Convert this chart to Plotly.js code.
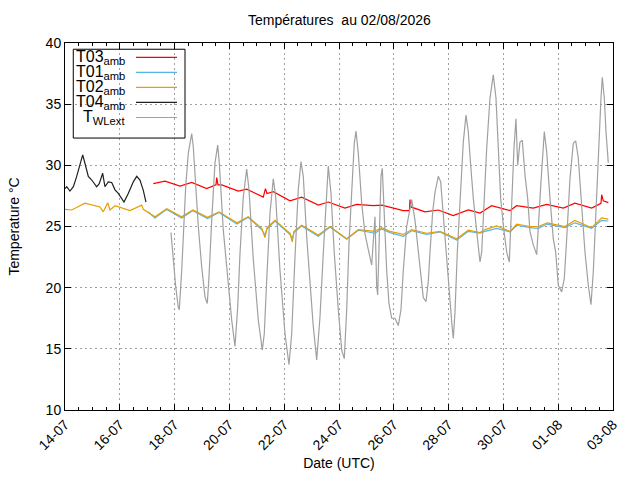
<!DOCTYPE html>
<html>
<head>
<meta charset="utf-8">
<script src="https://cdn.plot.ly/plotly-3.0.1.min.js"></script>
<style>
  html, body { margin: 0; padding: 0; background: #fff; }
  #chart { width: 640px; height: 480px; }
</style>
</head>
<body>
<div id="chart"></div>
<script>
// T03 amb (red)
var t03Dates = ['2026-07-17 05:20', '2026-07-17 15:35', '2026-07-18 04:45', '2026-07-18 15:00', '2026-07-19 04:05',
    '2026-07-19 12:15', '2026-07-19 12:55', '2026-07-19 14:00', '2026-07-19 17:15', '2026-07-20 07:50',
    '2026-07-20 15:10', '2026-07-21 05:40', '2026-07-21 07:35', '2026-07-21 08:55', '2026-07-21 14:25',
    '2026-07-22 05:05', '2026-07-22 15:20', '2026-07-23 05:55', '2026-07-23 14:40', '2026-07-24 05:15',
    '2026-07-24 15:30', '2026-07-25 06:00', '2026-07-25 13:25', '2026-07-26 08:20', '2026-07-26 13:40',
    '2026-07-26 14:10', '2026-07-26 15:00', '2026-07-27 03:20', '2026-07-27 15:00', '2026-07-28 04:05',
    '2026-07-28 17:15', '2026-07-29 03:30', '2026-07-29 13:40', '2026-07-30 05:50', '2026-07-30 11:40',
    '2026-07-31 02:10', '2026-07-31 13:55', '2026-08-01 04:30', '2026-08-01 14:40', '2026-08-02 05:20',
    '2026-08-02 13:30', '2026-08-02 14:05', '2026-08-02 15:30', '2026-08-02 19:55']
var t03Values = [28.5, 28.7, 28.3, 28.6, 28.1,
    28.4, 29.0, 28.4, 28.4, 27.9,
    28.05, 27.4, 28.1, 27.7, 27.85,
    27.1, 27.4, 26.75, 27.0, 26.5,
    26.8, 26.7, 26.75, 26.3, 26.3,
    27.2, 26.6, 26.2, 26.35, 25.9,
    26.35, 26.1, 26.7, 26.3, 26.7,
    26.5, 26.8, 26.5, 26.9, 26.5,
    26.9, 27.6, 27.1, 26.95]

// T01 amb (blue)
var t01Dates = ['2026-07-17 00:40', '2026-07-17 06:50', '2026-07-17 17:05', '2026-07-18 06:10', '2026-07-18 16:05',
    '2026-07-19 04:50', '2026-07-19 14:55', '2026-07-20 06:40', '2026-07-20 16:30', '2026-07-21 04:15',
    '2026-07-21 07:10', '2026-07-21 08:55', '2026-07-21 15:55', '2026-07-22 05:05', '2026-07-22 07:05',
    '2026-07-22 08:35', '2026-07-22 15:20', '2026-07-23 05:55', '2026-07-23 16:05', '2026-07-24 06:45',
    '2026-07-24 16:55', '2026-07-25 07:30', '2026-07-25 13:25', '2026-07-25 20:40', '2026-07-26 08:20',
    '2026-07-26 15:40', '2026-07-27 04:50', '2026-07-27 16:30', '2026-07-28 07:05', '2026-07-28 17:15',
    '2026-07-29 03:30', '2026-07-29 07:55', '2026-07-29 18:05', '2026-07-30 05:50', '2026-07-30 11:40',
    '2026-07-30 23:20', '2026-07-31 06:35', '2026-07-31 14:25', '2026-08-01 05:55', '2026-08-01 14:40',
    '2026-08-02 05:20', '2026-08-02 14:05', '2026-08-02 19:55']
var t01Values = [26.2, 25.7, 26.4, 25.7, 26.3,
    25.65, 26.15, 25.2, 25.75, 24.75,
    24.3, 24.8, 25.45, 24.35, 24.0,
    24.5, 25.05, 24.2, 24.95, 23.95,
    24.7, 24.45, 24.8, 24.5, 24.2,
    24.65, 24.35, 24.55, 23.9, 24.6,
    24.45, 24.6, 24.85, 24.55, 25.1,
    24.9, 24.85, 25.2, 24.9, 25.3,
    24.85, 25.5, 25.45]

// T02 amb (orange)
var t02Dates = ['2026-07-14 00:00', '2026-07-14 05:55', '2026-07-14 17:30', '2026-07-15 06:40', '2026-07-15 09:30',
    '2026-07-15 13:25', '2026-07-15 15:25', '2026-07-15 19:50', '2026-07-16 08:55', '2026-07-16 19:10',
    '2026-07-16 20:35', '2026-07-17 03:55', '2026-07-17 06:50', '2026-07-17 17:05', '2026-07-18 06:10',
    '2026-07-18 16:05', '2026-07-19 04:50', '2026-07-19 14:55', '2026-07-20 06:40', '2026-07-20 16:30',
    '2026-07-21 04:15', '2026-07-21 07:10', '2026-07-21 08:55', '2026-07-21 15:55', '2026-07-22 05:05',
    '2026-07-22 07:05', '2026-07-22 08:35', '2026-07-22 15:20', '2026-07-23 05:55', '2026-07-23 16:05',
    '2026-07-24 06:45', '2026-07-24 16:55', '2026-07-25 07:30', '2026-07-25 13:25', '2026-07-25 20:40',
    '2026-07-26 08:20', '2026-07-26 15:40', '2026-07-27 04:50', '2026-07-27 16:30', '2026-07-28 07:05',
    '2026-07-28 17:15', '2026-07-29 03:30', '2026-07-29 07:55', '2026-07-29 18:05', '2026-07-30 05:50',
    '2026-07-30 11:40', '2026-07-30 23:20', '2026-07-31 06:35', '2026-07-31 14:25', '2026-08-01 05:55',
    '2026-08-01 14:40', '2026-08-02 05:20', '2026-08-02 14:05', '2026-08-02 19:55']
var t02Values = [26.4, 26.35, 26.9, 26.6, 26.2,
    26.95, 26.35, 26.7, 26.3, 26.75,
    26.4, 26.0, 25.8, 26.45, 25.8,
    26.35, 25.75, 26.2, 25.3, 25.8,
    24.85, 24.1, 24.9, 25.5, 24.45,
    23.75, 24.6, 25.1, 24.3, 25.0,
    24.0, 24.75, 24.6, 24.9, 24.6,
    24.35, 24.75, 24.45, 24.6, 24.0,
    24.7, 24.5, 24.75, 25.05, 24.6,
    25.2, 25.0, 25.0, 25.3, 25.0,
    25.5, 24.9, 25.7, 25.6]

// T04 amb (black)
var t04Dates = ['2026-07-14 00:00', '2026-07-14 01:30', '2026-07-14 04:20', '2026-07-14 07:20', '2026-07-14 10:15',
    '2026-07-14 13:10', '2026-07-14 15:30', '2026-07-14 17:30', '2026-07-14 20:25', '2026-07-14 23:25',
    '2026-07-15 02:15', '2026-07-15 03:45', '2026-07-15 06:00', '2026-07-15 09:00', '2026-07-15 11:00',
    '2026-07-15 13:55', '2026-07-15 16:55', '2026-07-15 19:50', '2026-07-15 22:40', '2026-07-16 03:40',
    '2026-07-16 07:25', '2026-07-16 11:50', '2026-07-16 14:50', '2026-07-16 17:40', '2026-07-16 20:35',
    '2026-07-16 22:55']
var t04Values = [28.1, 28.25, 27.9, 28.25, 29.1,
    30.0, 30.85, 30.15, 29.1, 28.8,
    28.5, 28.25, 28.5, 29.35, 28.25,
    28.65, 28.6, 28.0, 27.7, 27.0,
    27.7, 28.65, 29.1, 28.8, 27.95,
    27.0]

// T WLext (grey)
var twlDates = [
    '2026-07-17 20:50', '2026-07-17 22:52', '2026-07-18 00:58', '2026-07-18 03:14', '2026-07-18 04:07',
    '2026-07-18 06:13', '2026-07-18 07:37', '2026-07-18 09:43', '2026-07-18 12:00', '2026-07-18 14:59',
    '2026-07-18 16:23', '2026-07-18 18:29', '2026-07-18 20:46', '2026-07-18 23:44', '2026-07-19 02:37',
    '2026-07-19 04:38', '2026-07-19 06:08', '2026-07-19 08:29', '2026-07-19 11:23', '2026-07-19 13:45',
    '2026-07-19 15:09', '2026-07-19 18:39', '2026-07-19 23:02', '2026-07-20 02:01', '2026-07-20 04:54',
    '2026-07-20 07:16', '2026-07-20 09:17', '2026-07-20 12:10', '2026-07-20 15:09', '2026-07-20 17:10',
    '2026-07-20 20:56', '2026-07-21 01:19', '2026-07-21 04:49', '2026-07-21 06:34', '2026-07-21 08:40',
    '2026-07-21 11:34', '2026-07-21 14:27', '2026-07-21 16:33', '2026-07-21 20:19', '2026-07-22 00:41',
    '2026-07-22 04:12', '2026-07-22 06:34', '2026-07-22 09:27', '2026-07-22 12:20', '2026-07-22 14:42',
    '2026-07-22 16:43', '2026-07-22 19:42', '2026-07-22 22:35', '2026-07-23 01:29', '2026-07-23 04:28',
    '2026-07-23 07:21', '2026-07-23 10:14', '2026-07-23 13:13', '2026-07-23 14:37', '2026-07-23 16:59',
    '2026-07-23 19:53', '2026-07-23 23:23', '2026-07-24 02:22', '2026-07-24 04:38', '2026-07-24 06:44',
    '2026-07-24 08:45', '2026-07-24 11:07', '2026-07-24 13:23', '2026-07-24 14:53', '2026-07-24 16:54',
    '2026-07-24 19:53', '2026-07-24 22:46', '2026-07-25 01:40', '2026-07-25 04:38', '2026-07-25 07:31',
    '2026-07-25 09:01', '2026-07-25 09:53', '2026-07-25 11:02', '2026-07-25 12:47', '2026-07-25 13:55',
    '2026-07-25 15:40', '2026-07-25 17:46', '2026-07-25 19:47', '2026-07-25 22:09', '2026-07-26 01:02',
    '2026-07-26 03:56', '2026-07-26 06:18', '2026-07-26 08:18', '2026-07-26 11:17', '2026-07-26 14:11',
    '2026-07-26 15:40', '2026-07-26 18:34', '2026-07-26 21:27', '2026-07-27 01:50', '2026-07-27 04:12',
    '2026-07-27 06:13', '2026-07-27 07:42', '2026-07-27 10:04', '2026-07-27 12:05', '2026-07-27 14:58',
    '2026-07-27 17:04', '2026-07-27 19:21', '2026-07-27 21:43', '2026-07-28 00:36', '2026-07-28 02:43',
    '2026-07-28 04:07', '2026-07-28 05:36', '2026-07-28 07:37', '2026-07-28 10:35', '2026-07-28 12:52',
    '2026-07-28 15:14', '2026-07-28 17:15', '2026-07-28 19:21', '2026-07-28 21:38', '2026-07-29 00:36',
    '2026-07-29 03:30', '2026-07-29 04:59', '2026-07-29 07:00', '2026-07-29 09:22', '2026-07-29 12:15',
    '2026-07-29 15:08', '2026-07-29 17:30', '2026-07-29 19:31', '2026-07-29 21:37', '2026-07-29 23:54',
    '2026-07-30 02:53', '2026-07-30 05:10', '2026-07-30 07:16', '2026-07-30 09:16', '2026-07-30 11:01',
    '2026-07-30 12:31', '2026-07-30 14:32', '2026-07-30 16:32', '2026-07-30 18:55', '2026-07-30 21:16',
    '2026-07-30 23:17', '2026-07-31 02:11', '2026-07-31 05:10', '2026-07-31 06:34', '2026-07-31 08:55',
    '2026-07-31 11:49', '2026-07-31 13:55', '2026-07-31 16:48', '2026-07-31 19:41', '2026-07-31 21:48',
    '2026-08-01 00:05', '2026-08-01 03:03', '2026-08-01 05:20', '2026-08-01 07:26', '2026-08-01 10:19',
    '2026-08-01 13:13', '2026-08-01 15:19', '2026-08-01 17:35', '2026-08-01 20:34', '2026-08-01 23:28',
    '2026-08-02 02:21', '2026-08-02 04:43', '2026-08-02 06:44', '2026-08-02 08:50', '2026-08-02 11:07',
    '2026-08-02 13:29', '2026-08-02 14:37', '2026-08-02 16:22', '2026-08-02 17:52', '2026-08-02 19:53']
var twlValues = [
    24.5, 22.3, 20.1, 18.4, 18.2,
    21.4, 24.7, 28.25, 31.0, 32.6,
    31.5, 28.25, 25.0, 21.7, 19.25,
    18.7, 20.9, 25.5, 30.2, 31.65,
    30.2, 24.7, 20.35, 17.35, 15.2,
    18.4, 22.8, 27.4, 29.7, 28.0,
    22.3, 17.35, 14.9, 16.25, 20.6,
    26.1, 28.9, 27.4, 21.4, 16.25,
    13.7, 16.25, 22.5, 28.0, 30.3,
    29.1, 24.15, 20.1, 16.8, 14.1,
    17.6, 22.8, 28.25, 29.95, 27.7,
    22.8, 18.2, 14.9, 14.2, 18.2,
    23.6, 28.25, 31.8, 32.8, 31.0,
    26.9, 24.4, 23.1, 21.85, 25.8,
    20.1, 19.4, 23.6, 29.1, 29.75,
    25.5, 21.4, 18.7, 17.5, 17.5,
    16.9, 18.2, 21.4, 25.0, 26.6,
    27.2, 25.5, 23.1, 19.2, 18.85,
    20.5, 22.9, 26.2, 27.8, 29.1,
    28.65, 25.9, 22.7, 19.4, 17.2,
    15.85, 18.0, 22.9, 27.8, 31.9,
    34.1, 32.75, 30.0, 27.3, 24.6,
    22.1, 22.9, 27.3, 31.4, 35.5,
    37.4, 35.5, 31.4, 27.3, 25.1,
    22.9, 22.1, 26.75, 31.4, 33.8,
    30.0, 31.9, 32.05, 29.2, 27.3,
    24.6, 23.5, 22.7, 24.6, 28.65,
    32.75, 31.1, 27.3, 24.0, 22.9,
    20.2, 19.65, 20.75, 24.0, 28.9,
    31.8, 32.0, 30.6, 26.75, 22.9,
    20.2, 18.6, 21.3, 25.9, 31.4,
    35.5, 37.2, 35.5, 32.75, 30.2]

var seriesNames = ['T03<sub>amb</sub>', 'T01<sub>amb</sub>', 'T02<sub>amb</sub>', 'T04<sub>amb</sub>', 'T<sub>WLext</sub>']
var seriesColors = ['#ff0000', '#56b4e9', '#e69f00', '#202020', '#a0a0a0']
var seriesDates = [t03Dates, t01Dates, t02Dates, t04Dates, twlDates]
var seriesValues = [t03Values, t01Values, t02Values, t04Values, twlValues]

var FONT = 'Liberation Sans, Arial, sans-serif'

var traces = seriesNames.map((name, i) => ({
    x: seriesDates[i],
    y: seriesValues[i],
    name: name,
    type: 'scatter',
    mode: 'lines',
    line: { color: seriesColors[i], width: 1.2 },
    hoverinfo: 'skip',
}))

// gnuplot-like key, text on the left and the sample on the right
var keyRows = [0.961, 0.920, 0.879, 0.838, 0.797]
var annotations = [{
    xref: 'paper', yref: 'paper', x: 0.5, y: 1.063,
    text: 'Températures\u00a0 au 02/08/2026', showarrow: false,
    font: { family: FONT, size: 14, color: '#000' }, xanchor: 'center', yanchor: 'middle',
}]
var shapes = [{
    type: 'rect', xref: 'paper', yref: 'paper',
    x0: 0.0151, x1: 0.219, y0: 0.741, y1: 0.983,
    line: { color: '#000', width: 1 }, fillcolor: 'rgba(0,0,0,0)',
}]
seriesNames.forEach((name, i) => {
    annotations.push({
        xref: 'paper', yref: 'paper', x: 0.113, y: keyRows[i],
        text: name, showarrow: false, xanchor: 'right', yanchor: 'middle',
        font: { family: FONT, size: 16, color: '#000' },
    })
    shapes.push({
        type: 'line', xref: 'paper', yref: 'paper',
        x0: 0.1296, x1: 0.2044, y0: keyRows[i], y1: keyRows[i],
        line: { color: seriesColors[i], width: 1.2 },
    })
})

var layout = {
    width: 640,
    height: 480,
    margin: { l: 65, r: 27, t: 43, b: 70 },
    paper_bgcolor: '#fff',
    plot_bgcolor: '#fff',
    showlegend: false,
    font: { family: FONT, size: 14, color: '#000' },
    xaxis: {
        type: 'date',
        range: ['2026-07-14 00:00', '2026-08-03 00:00'],
        tick0: '2026-07-14',
        dtick: 2 * 86400000,
        tickformat: '%d-%m',
        tickangle: -45,
        ticks: 'inside',
        ticklen: 6,
        tickcolor: '#000',
        showline: true,
        linecolor: '#000',
        linewidth: 1,
        mirror: 'allticks',
        showgrid: true,
        gridcolor: '#a0a0a0',
        griddash: '2px,3px',
        zeroline: false,
        minor: { dtick: 43200000, ticks: 'inside', ticklen: 3, tickcolor: '#000', showgrid: false },
        title: { text: 'Date (UTC)', font: { family: FONT, size: 14 }, standoff: 6 },
    },
    yaxis: {
        range: [10, 40],
        dtick: 5,
        ticks: 'inside',
        ticklen: 6,
        tickcolor: '#000',
        showline: true,
        linecolor: '#000',
        linewidth: 1,
        mirror: 'allticks',
        showgrid: true,
        gridcolor: '#a0a0a0',
        griddash: '2px,3px',
        zeroline: false,
        title: { text: 'Temperature °C', font: { family: FONT, size: 14 }, standoff: 22 },
    },
    annotations: annotations,
    shapes: shapes,
}

Plotly.newPlot('chart', traces, layout, { staticPlot: true, displayModeBar: false })
</script>
</body>
</html>
